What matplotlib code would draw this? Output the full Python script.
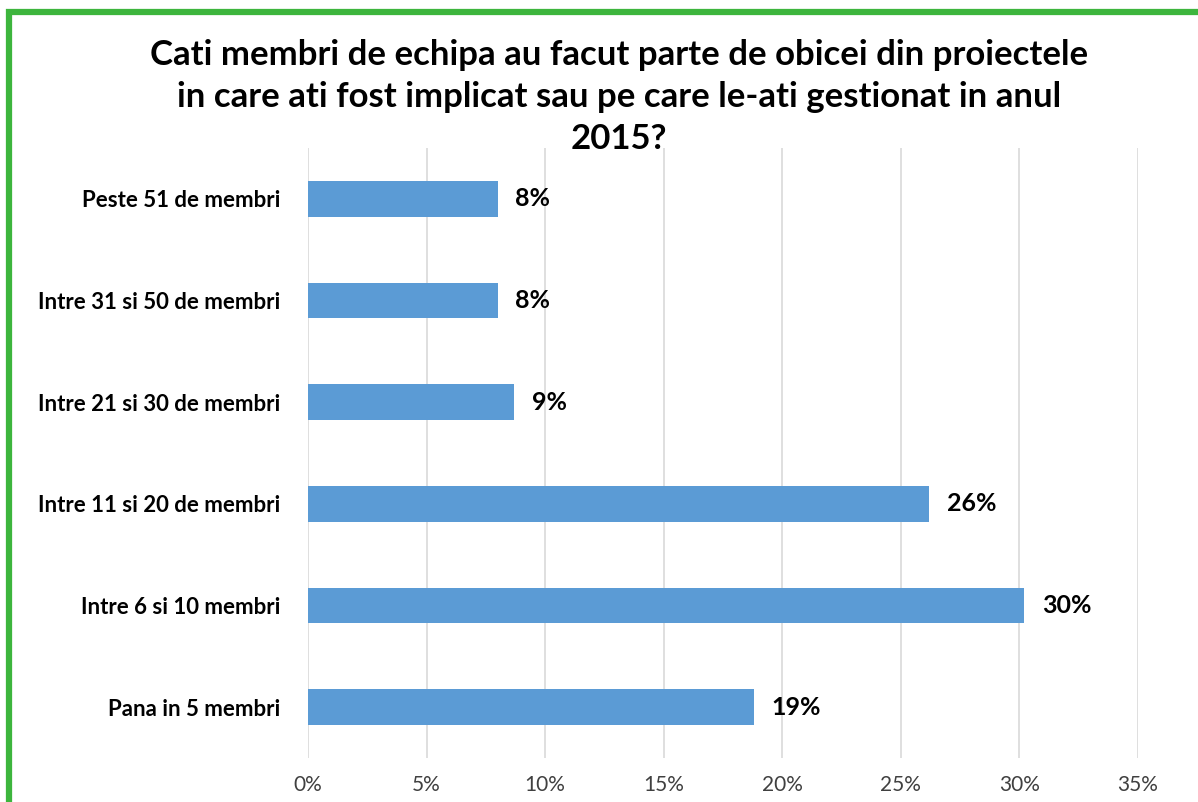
import matplotlib
matplotlib.use("Agg")
import matplotlib.pyplot as plt
from matplotlib.patches import Rectangle
from matplotlib.ticker import FuncFormatter, MultipleLocator

categories = [
    "Pana in 5 membri",
    "Intre 6 si 10 membri",
    "Intre 11 si 20 de membri",
    "Intre 21 si 30 de membri",
    "Intre 31 si 50 de membri",
    "Peste 51 de membri",
]
shares = [18.8, 30.2, 26.2, 8.7, 8.0, 8.0]
title = ("Cati membri de echipa au facut parte de obicei din proiectele\n"
         "in care ati fost implicat sau pe care le-ati gestionat in anul\n"
         "2015?")

plt.rcParams["font.family"] = ["Lato", "DejaVu Sans"]

fig = plt.figure(figsize=(11.98, 8.02), dpi=100)
ax = fig.add_axes([308 / 1198, 1 - 758 / 802, (1138 - 308) / 1198, (758 - 148) / 802])

positions = range(len(categories))
ax.barh(positions, shares, height=0.35, color="#5B9BD5", zorder=3)
for y, v in zip(positions, shares):
    ax.text(v + 0.75, y, f"{round(v):.0f}%", va="center", ha="left",
            fontsize=18, fontweight="bold", color="#000000")

ax.set_xlim(0, 35)
ax.set_ylim(-0.5, len(categories) - 0.5)
ax.xaxis.set_major_locator(MultipleLocator(5))
ax.xaxis.set_major_formatter(FuncFormatter(lambda x, _: f"{x:.0f}%"))
ax.set_yticks(list(positions))
ax.set_yticklabels(categories, fontsize=16, fontweight="bold")
ax.grid(axis="x", color="#D9D9D9", linewidth=1.2, zorder=0)
ax.tick_params(axis="both", length=0)
ax.tick_params(axis="x", labelsize=15, colors="#404040", pad=12)
ax.tick_params(axis="y", pad=20)
for side in ax.spines.values():
    side.set_visible(False)

fig.text(0.5 + 20 / 1198, 1 - 97 / 802, title, ha="center", va="center",
         fontsize=25, fontweight="bold", linespacing=1.38)

# green frame on the top and left edges
fig.patches.append(Rectangle((9 / 1198, -0.1), 1.2, 1.1 - 12 / 802,
                             transform=fig.transFigure, fill=False,
                             edgecolor="#3DB53D", linewidth=4.5))

fig.savefig("out.png", dpi=100)
